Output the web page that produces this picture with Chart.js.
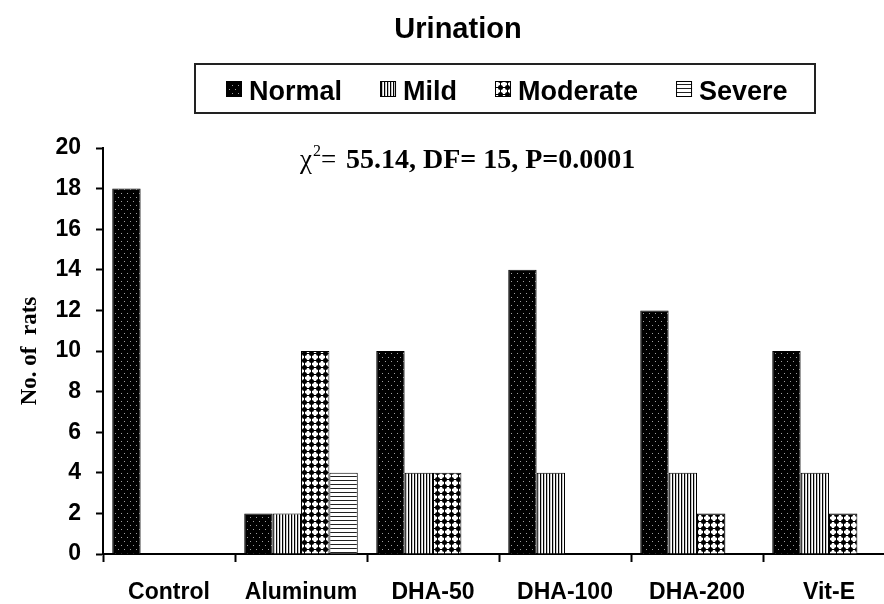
<!DOCTYPE html>
<html lang="en">
<head>
<meta charset="UTF-8">
<title>Urination</title>
<style>
    body {
        margin: 0;
        background: #fff;
        overflow: hidden;
    }
    .wrap {
        width: 900px;
        height: 604px;
    }
</style>
<script src="https://cdn.jsdelivr.net/npm/chart.js"></script>
</head>
<body>
<div class="wrap"><canvas id="chart" width="900" height="604"></canvas></div>
<script>
    const groups = ['Control', 'Aluminum', 'DHA-50', 'DHA-100', 'DHA-200', 'Vit-E'];
    const seriesNames = ['Normal', 'Mild', 'Moderate', 'Severe'];
    const normal = [18, 2, 10, 14, 12, 10];
    const mild = [0, 2, 4, 4, 4, 4];
    const moderate = [0, 10, 4, 0, 2, 2];
    const severe = [0, 4, 0, 0, 0, 0];
    const yMin = 0, yMax = 20, yStep = 2;
    const chartTitle = 'Urination';
    const yTitle = 'No. of  rats';
    const statText = '55.14, DF= 15, P=0.0001';

    const canvas = document.getElementById('chart');
    const ctx = canvas.getContext('2d');

    // hatch fills like the old excel chart
    function makePattern(kind) {
        const c = document.createElement('canvas');
        const g = c.getContext('2d');
        if (kind === 'Normal') {
            c.width = 6; c.height = 8;
            g.fillStyle = '#000';
            g.fillRect(0, 0, 6, 8);
            g.fillStyle = '#a0a0a0';
            g.fillRect(1, 1, 1, 1);
            g.fillRect(4, 5, 1, 1);
        } else if (kind === 'Mild') {
            c.width = 3; c.height = 4;
            g.fillStyle = '#fff';
            g.fillRect(0, 0, 3, 4);
            g.fillStyle = '#000';
            g.fillRect(0, 0, 1, 4);
            g.fillStyle = '#888';
            g.fillRect(1, 0, 0.5, 4);
        } else if (kind === 'Moderate') {
            c.width = 7; c.height = 7;
            g.fillStyle = '#fff';
            g.fillRect(0, 0, 7, 7);
            g.fillStyle = '#000';
            g.beginPath();
            g.arc(3.5, 3.5, 2.5, 0, Math.PI * 2);
            g.fill();
            g.fillRect(3, 0, 1, 7);
            g.fillRect(0, 3, 7, 1);
        } else {
            c.width = 4; c.height = 4;
            g.fillStyle = '#fff';
            g.fillRect(0, 0, 4, 4);
            g.fillStyle = '#222';
            g.fillRect(0, 0, 4, 1);
        }
        return ctx.createPattern(c, 'repeat');
    }

    const values = [normal, mild, moderate, severe];
    const datasets = seriesNames.map((name, i) => ({
        label: name,
        data: values[i],
        backgroundColor: makePattern(name),
        borderColor: '#000',
        borderWidth: 1,
        barPercentage: 1,
        categoryPercentage: 0.86
    }));

    const decor = {
        id: 'decor',
        afterDraw(chart) {
            const c = chart.ctx;
            c.save();
            c.fillStyle = '#000';
            c.textBaseline = 'alphabetic';

            // title
            c.font = 'bold 29px "Liberation Sans"';
            c.textAlign = 'center';
            c.fillText(chartTitle, 458, 38);

            // legend in a box
            c.textAlign = 'left';
            c.font = 'bold 27px "Liberation Sans"';
            let x = 226;
            chart.data.datasets.forEach(ds => {
                c.fillStyle = ds.backgroundColor;
                c.fillRect(x, 81, 16, 16);
                c.strokeStyle = '#000';
                c.lineWidth = 1;
                c.strokeRect(x + 0.5, 81.5, 15, 15);
                c.fillStyle = '#000';
                c.fillText(ds.label, x + 23, 100);
                x += 23 + c.measureText(ds.label).width + 38;
            });
            c.strokeStyle = '#222';
            c.lineWidth = 2;
            c.strokeRect(195, 64, 620, 49);

            // chi-square note
            let sx = 300;
            const by = 168;
            c.font = '27px "Liberation Serif"';
            c.fillText('\u03c7', sx, by);
            sx += c.measureText('\u03c7').width + 1;
            c.font = '16px "Liberation Serif"';
            c.fillText('2', sx, by - 12);
            sx += c.measureText('2').width;
            c.font = '27px "Liberation Serif"';
            c.fillText('=', sx, by);
            sx += c.measureText('= ').width + 3;
            c.font = 'bold 28px "Liberation Serif"';
            c.fillText(statText, sx, by);
            c.restore();
        }
    };

    new Chart(ctx, {
        type: 'bar',
        data: { labels: groups, datasets: datasets },
        plugins: [decor],
        options: {
            responsive: false,
            animation: false,
            layout: { padding: { top: 148, left: 0, right: 5, bottom: 0 } },
            plugins: {
                legend: { display: false },
                title: { display: false },
                tooltip: { enabled: false }
            },
            scales: {
                x: {
                    afterFit(scale) { scale.height = 50; },
                    border: { color: '#000', width: 2 },
                    grid: {
                        drawOnChartArea: false,
                        tickLength: 8,
                        tickColor: '#000',
                        tickWidth: 2
                    },
                    ticks: {
                        color: '#000',
                        padding: 17,
                        maxRotation: 0,
                        font: { family: 'Liberation Sans', size: 23, weight: 'bold' }
                    }
                },
                y: {
                    min: yMin,
                    max: yMax,
                    afterFit(scale) { scale.width = 103; },
                    border: { color: '#000', width: 2 },
                    grid: {
                        drawOnChartArea: false,
                        tickLength: 7,
                        tickColor: '#000',
                        tickWidth: 2
                    },
                    ticks: {
                        stepSize: yStep,
                        color: '#000',
                        padding: 15,
                        font: { family: 'Liberation Sans', size: 23, weight: 'bold' }
                    },
                    title: {
                        display: true,
                        text: yTitle,
                        color: '#000',
                        padding: { top: 16, bottom: 0 },
                        font: { family: 'Liberation Serif', size: 23, weight: 'bold' }
                    }
                }
            }
        }
    });
</script>
</body>
</html>
